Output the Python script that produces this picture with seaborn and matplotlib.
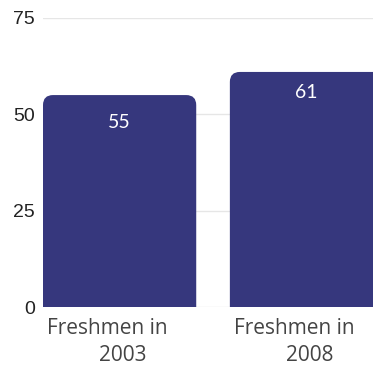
import matplotlib
matplotlib.use("Agg")
import matplotlib.pyplot as plt
import seaborn as sns
import pandas as pd
from matplotlib.path import Path
from matplotlib.patches import PathPatch

categories = ["Freshmen in 2003", "Freshmen in 2008"]
label_line1 = ["Freshmen in", "Freshmen in"]
label_line2 = ["2003", "2008"]
values = [55, 61]
yticks = [0, 25, 50, 75]

BAR_COLOR = "#36377d"
PT = 0.72  # points per pixel at dpi 100

sns.set_theme(style="white")
plt.rcParams['font.family'] = ['Open Sans', 'DejaVu Sans']

df = pd.DataFrame({"cat": categories, "val": values})

W, H = 373, 366
fig = plt.figure(figsize=(W / 100, H / 100), dpi=100)
left, right, bottom, top = 43, 373, 307, 18
ax = fig.add_axes([left / W, (H - bottom) / H, (right - left) / W, (bottom - top) / H])

sns.barplot(data=df, x="cat", y="val", color=BAR_COLOR, saturation=1,
            width=0.82, ax=ax, zorder=3)

xlo, xhi = -0.41, 1.356
ax.set_xlim(xlo, xhi)
ax.set_ylim(0, 75)
ax.set_yticks(yticks)
ax.set_yticklabels([str(t) for t in yticks], fontfamily="Liberation Sans",
                   fontsize=14, color="#222222")
ax.tick_params(axis="y", length=0, pad=6)
ax.set_xticks(range(len(categories)))
ax.set_xticklabels([""] * len(categories))
ax.tick_params(axis="x", length=0)
ax.set_xlabel("")
ax.set_ylabel("")
for s in ax.spines.values():
    s.set_visible(False)
ax.yaxis.grid(True, color="#e6e6e6", lw=1, zorder=0)
ax.xaxis.grid(False)
ax.set_axisbelow(True)

# category labels (two lines, as in the reference)
for i, (l1, l2) in enumerate(zip(label_line1, label_line2)):
    ax.annotate(l1, (i, 0), xycoords=("data", "axes fraction"),
                xytext=(-12.5 * PT, -27 * PT), textcoords="offset points",
                ha="center", va="baseline", fontsize=15, color="#444444",
                annotation_clip=False)
    ax.annotate(l2, (i, 0), xycoords=("data", "axes fraction"),
                xytext=(3 * PT, -54 * PT), textcoords="offset points",
                ha="center", va="baseline", fontsize=15, color="#444444",
                annotation_clip=False)

# rounded top corners
pxx = (right - left) / (xhi - xlo)
pxy = (bottom - top) / 75
r = 10
rx, ry = r / pxx, r / pxy
patches = list(ax.patches)
for p in patches:
    x0 = p.get_x()
    w = p.get_width()
    h = p.get_height()
    x1 = x0 + w
    verts = [(x0, 0), (x0, h - ry), (x0, h), (x0 + rx, h), (x1 - rx, h),
             (x1, h), (x1, h - ry), (x1, 0), (x0, 0)]
    codes = [Path.MOVETO, Path.LINETO, Path.CURVE3, Path.CURVE3, Path.LINETO,
             Path.CURVE3, Path.CURVE3, Path.LINETO, Path.CLOSEPOLY]
    pp = PathPatch(Path(verts, codes), facecolor=BAR_COLOR, edgecolor="none", zorder=3)
    p.remove()
    ax.add_patch(pp)

label_offsets_px = [-27, -21]
for i, v in enumerate(values):
    ax.annotate(str(v), (i, v), xytext=(0, label_offsets_px[i] * PT),
                textcoords="offset points",
                ha="center", va="center", color="white", fontsize=14,
                fontfamily="Lato", zorder=4)

fig.savefig("out.png", dpi=100)
